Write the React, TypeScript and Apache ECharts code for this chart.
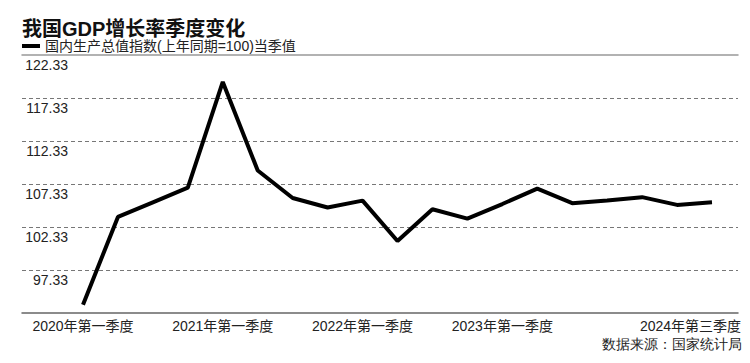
import React, { useEffect, useRef } from "react";
import * as echarts from "echarts";

const titleText = "我国GDP增长率季度变化";
const seriesName = "国内生产总值指数(上年同期=100)当季值";
const sourceText = "数据来源：国家统计局";

const categories = [
  "2020年第一季度", "2020年第二季度", "2020年第三季度", "2020年第四季度",
  "2021年第一季度", "2021年第二季度", "2021年第三季度", "2021年第四季度",
  "2022年第一季度", "2022年第二季度", "2022年第三季度", "2022年第四季度",
  "2023年第一季度", "2023年第二季度", "2023年第三季度", "2023年第四季度",
  "2024年第一季度", "2024年第二季度", "2024年第三季度",
];

const values = [
  93.3, 103.5, 105.2, 106.9,
  119.2, 108.9, 105.7, 104.6,
  105.4, 100.7, 104.4, 103.3,
  105.0, 106.8, 105.1, 105.4,
  105.8, 104.9, 105.2,
];

const yMin = 92.33;
const yMax = 122.33;
const yTicks = [97.33, 102.33, 107.33, 112.33, 117.33, 122.33];
const shownLabelIndices = [0, 4, 8, 12, 18];

const FONT = "'Liberation Sans', 'Noto Sans CJK SC', sans-serif";
const TEXT = "#222";

export default function App() {
  const ref = useRef<HTMLDivElement>(null);

  useEffect(() => {
    if (!ref.current) return;
    const chart = echarts.init(ref.current, null, { renderer: "svg" });
    const lastIdx = categories.length - 1;
    chart.setOption({
      animation: false,
      backgroundColor: "#fff",
      textStyle: { fontFamily: FONT },
      title: {
        text: titleText,
        left: 22,
        top: 19,
        padding: 0,
        textStyle: { fontSize: 20, fontWeight: "bold", color: "#111", fontFamily: FONT },
      },
      legend: {
        left: 22,
        top: 39,
        padding: 0,
        icon: "rect",
        itemWidth: 18,
        itemHeight: 4,
        data: [seriesName],
        textStyle: { fontSize: 14, color: TEXT, fontFamily: FONT },
      },
      graphic: [
        {
          type: "text",
          right: 8,
          top: 337,
          style: { text: sourceText, fontSize: 14, fill: TEXT, font: `14px ${FONT}` },
        },
      ],
      grid: [
        { left: 22, right: 12, top: 55, bottom: 50 },
        { left: 83, right: 38, top: 55, bottom: 50 },
      ],
      xAxis: [
        {
          gridIndex: 0,
          type: "value",
          min: 0,
          max: 1,
          position: "bottom",
          axisLine: { show: true, lineStyle: { color: "#666", width: 1.5 } },
          axisTick: { show: false },
          axisLabel: { show: false },
          splitLine: { show: false },
        },
        {
          gridIndex: 0,
          type: "value",
          min: 0,
          max: 1,
          position: "top",
          axisLine: { show: true, lineStyle: { color: "#999", width: 1.5 } },
          axisTick: { show: false },
          axisLabel: { show: false },
          splitLine: { show: false },
        },
        {
          gridIndex: 1,
          type: "category",
          data: categories,
          boundaryGap: false,
          axisLine: { show: false },
          axisTick: { show: false },
          splitLine: { show: false },
          axisLabel: {
            interval: (i: number) => shownLabelIndices.includes(i),
            margin: 6,
            fontSize: 14,
            color: TEXT,
            fontFamily: FONT,
            formatter: (v: string, i: number) => (i === lastIdx ? `{r|${v}}` : v),
            rich: {
              r: { fontSize: 14, color: TEXT, fontFamily: FONT, padding: [0, 43, 0, 0] },
            },
          },
        },
      ],
      yAxis: [
        {
          gridIndex: 0,
          type: "value",
          min: yMin,
          max: yMax,
          axisLine: { show: false },
          axisTick: { show: false, customValues: yTicks.slice(0, -1) },
          splitLine: { show: true, lineStyle: { type: [4, 3], color: "#777", width: 1 } },
          axisLabel: {
            inside: true,
            align: "right",
            verticalAlign: "top",
            margin: 46,
            padding: [3, 0, 0, 0],
            fontSize: 14,
            color: TEXT,
            fontFamily: FONT,
            customValues: yTicks,
            formatter: (v: number) => v.toFixed(2),
          },
        },
        {
          gridIndex: 1,
          type: "value",
          min: yMin,
          max: yMax,
          show: false,
          splitLine: { show: false },
        },
      ],
      series: [
        {
          name: seriesName,
          type: "line",
          xAxisIndex: 2,
          yAxisIndex: 1,
          data: values,
          symbol: "none",
          showSymbol: false,
          color: "#000",
          lineStyle: { color: "#000", width: 4 },
        },
      ],
    });
    return () => chart.dispose();
  }, []);

  return (
    <div
      ref={ref}
      style={{ position: "fixed", left: 0, top: 0, width: 750, height: 363, background: "#fff" }}
    />
  );
}
